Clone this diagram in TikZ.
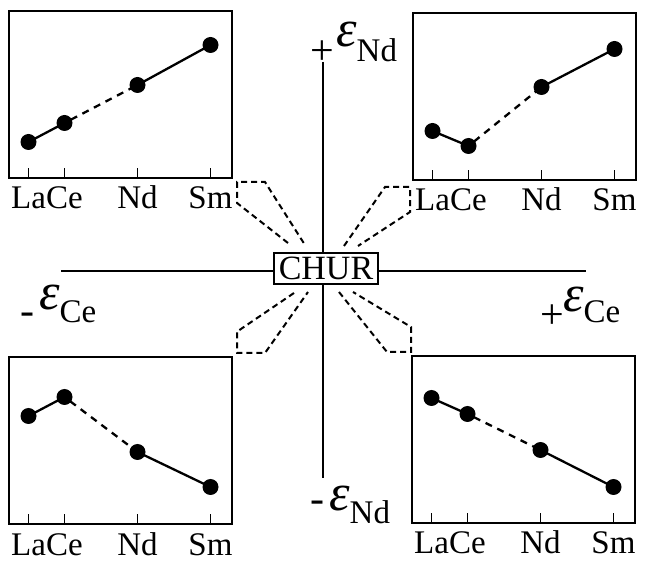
\documentclass[tikz,border=0pt]{standalone}
\usepackage{fontspec}
\setmainfont{Liberation Serif}
\usepackage{tikz}
\usetikzlibrary{positioning}
\def\panelW{223}
\def\panelH{167}
\def\lblSize{\fontsize{33}{36}\selectfont}
\def\epsSize{\fontsize{52}{56}\selectfont\itshape}
\newcommand{\reepanel}[7]{%
% #1 = name, #2 = left, #3 = top, #4..#7 = La Ce Nd Sm (from top)
\begin{scope}[shift={(#2,#3)}]
\draw[panelbox] (0,0) rectangle (\panelW,\panelH);
% ticks and element names
\foreach \el/\tx in {La/19.5, Ce/55.5, Nd/128.5, Sm/201.5}{
  \draw[tick] (\tx,\panelH) -- ++(0,-10);
  \node[elem] (#1\el lbl) at (\tx,\panelH+31) {\el};
}
\node[dot] (#1La) at (19.5,#4) {};
\node[dot] (#1Ce) at (55.5,#5) {};
\node[dot] (#1Nd) at (128.5,#6) {};
\node[dot] (#1Sm) at (201.5,#7) {};
\draw[trend] (#1La) -- (#1Ce);
\draw[trend, dash pattern=on 7pt off 6pt] (#1Ce) -- (#1Nd);
\draw[trend] (#1Nd) -- (#1Sm);
\end{scope}
}

\begin{document}
\begin{tikzpicture}[
    x=1pt, y=-1pt,
    panelbox/.style={line width=2.4pt},
    tick/.style={line width=1.8pt},
    trend/.style={line width=2.3pt, shorten <=-1pt, shorten >=-1pt},
    dot/.style={circle, fill=black, inner sep=0pt, minimum size=16pt},
    elem/.style={anchor=base, inner sep=0pt, text depth=0pt, font=\lblSize},
    axis/.style={line width=1.8pt},
    wedge/.style={line width=2pt, dash pattern=on 6pt off 4pt},
    sign/.style={inner sep=0pt, font=\fontsize{42}{44}\selectfont},
    epslbl/.style={anchor=base west, inner sep=0pt, font=\lblSize}
]
\useasboundingbox (0,0) rectangle (646,561);

% axes
\coordinate (axL) at (61,271);
\coordinate (axR) at (586,271);
\coordinate (axT) at (323,62);
\coordinate (axB) at (323,478);
\draw[axis] (axL) -- (axR);
\draw[axis] (axT) -- (axB);

% dashed wedges
\draw[wedge] (288,243) -- (237,203) -- (237,182) -- (265,182) -- (305,245);
\draw[wedge] (344,246) -- (385,187) -- (410,187) -- (410,212) -- (358,246);
\draw[wedge] (294,293) -- (238,331) -- (237,331) -- (237,353) -- (265,353) -- (308,292);
\draw[wedge] (339,292) -- (387,352) -- (411,352) -- (411,327) -- (353,292);

\node[draw, line width=1.6pt, fill=white, inner xsep=5pt, inner ysep=4pt,
      font=\fontsize{34}{36}\selectfont] (chur) at (326,268.5) {CHUR};

% panels
\reepanel{tl}{9}{11}{131}{112}{74}{34}
\reepanel{tr}{413}{13}{118}{133}{74}{36}
\reepanel{bl}{9}{357}{59}{40}{95}{130}
\reepanel{br}{412}{356}{42}{58}{94}{131}

% axis labels
\node[sign] (plusNd) at (322,53) {+};
\node[epslbl] (epsNdTop) at (336,62) {\raisebox{15pt}{\epsSize ε}Nd};
\node[sign] (minusNd) at (317,507) {-};
\node[epslbl] (epsNdBot) at (329,523) {\raisebox{13pt}{\epsSize ε}Nd};
\node[sign] (minusCe) at (27,319) {-};
\node[epslbl] (epsCeL) at (39,323) {\raisebox{13pt}{\epsSize ε}Ce};
\node[sign] (plusCe) at (552,317) {+};
\node[epslbl] (epsCeR) at (563,323) {\raisebox{11pt}{\epsSize ε}Ce};
\end{tikzpicture}
\end{document}
